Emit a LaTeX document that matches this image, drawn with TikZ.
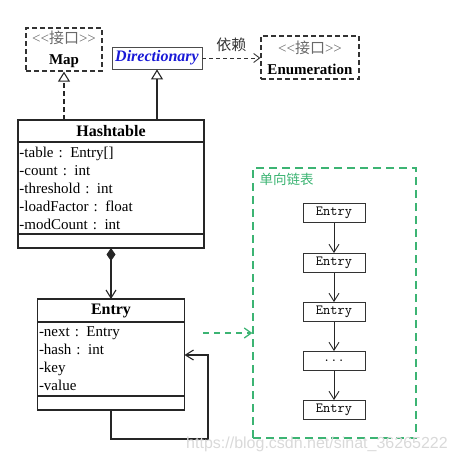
\documentclass[tikz,border=0pt]{standalone}
\usepackage{fontspec}
\setmainfont{Liberation Serif}
\newfontfamily\cjk{Noto Sans CJK SC}
\newfontfamily\markfont{Liberation Sans}
\usepackage{tikz}
\usetikzlibrary{positioning}
\usetikzlibrary{arrows.meta}
\definecolor{ifacegray}{RGB}{105,105,105}
\definecolor{dirblue}{RGB}{25,25,215}
\definecolor{listgreen}{RGB}{60,180,115}
\newcommand{\iface}{\textcolor{ifacegray}{<\kern0pt<{\cjk 接口}>\kern0pt>}}
\newcommand{\listdots}{...}
\tikzstyle{classtitle}=[draw=black!85,line width=1.2pt,outer sep=0pt,inner sep=0pt,font=\fontsize{16}{18}\selectfont\bfseries]
\tikzstyle{classpart}=[draw=black!85,line width=1.2pt,outer sep=0pt,inner xsep=1.5pt,inner ysep=0pt,align=left,font=\fontsize{15}{18}\selectfont]
\tikzstyle{ifacebox}=[draw=black!80,line width=1.3pt,dash pattern=on 5pt off 3pt,align=center,inner sep=0pt,font=\fontsize{15}{21}\selectfont]
\tikzstyle{listnode}=[draw=black!80,line width=0.9pt,minimum width=62pt,minimum height=19pt,inner sep=0pt,font=\fontsize{14}{14}\selectfont\ttfamily]
\tikzstyle{realize} = [draw=black!85,line width=1.1pt,dash pattern=on 5pt off 3pt,-{Triangle[open,width=12pt,length=10pt]}]
\tikzstyle{inherit} = [draw=black!85,line width=1.1pt,-{Triangle[open,width=12pt,length=10pt]}]
\tikzstyle{depend} = [draw=black!80,line width=0.9pt,dash pattern=on 4pt off 3pt,-{Straight Barb[width=9pt,length=6pt]}]
\tikzstyle{edge} = [draw=black!85,line width=1.1pt,-{Straight Barb[width=10pt,length=8pt]}]
\tikzstyle{greenedge} = [draw=listgreen,line width=1.3pt,dash pattern=on 6pt off 5pt,-{Straight Barb[width=10pt,length=7pt]}]

\begin{document}
\begin{tikzpicture}[x=1pt,y=-1pt]
    \useasboundingbox (0,0) rectangle (456,464);
    % The interfaces and the super class
    \node[ifacebox, minimum width=76pt, minimum height=43pt] (map) at (64,49.5) {\iface\\ \textbf{Map}};
    \node[ifacebox, minimum width=98pt, minimum height=43pt] (enum) at (310,57.5) {\iface\\ \textbf{Enumeration}};
    \node[draw=black!70, line width=0.8pt, minimum width=90pt, minimum height=22pt, inner sep=0pt,
          font=\fontsize{16}{18}\selectfont\bfseries\itshape, text=dirblue] (dir) at (157,58) {Directionary};

    % Hashtable class
    \node[classtitle, minimum width=186pt, minimum height=22pt] (htitle) at (111,131) {Hashtable};
    \node[classpart, text width=183pt, minimum height=92pt, below=0pt of htitle] (hattr)
        {-table : Entry[]\\-count : int\\-threshold : int\\-loadFactor : float\\-modCount : int};
    \node[classpart, text width=183pt, minimum height=14pt, below=0pt of hattr] (hmeth) {};

    % Entry class
    \node[classtitle, minimum width=147pt, minimum height=23pt] (etitle) at (111,310.5) {Entry};
    \node[classpart, text width=144pt, minimum height=74pt, below=0pt of etitle] (eattr)
        {-next : Entry\\-hash : int\\-key\\-value};
    \node[classpart, text width=144pt, minimum height=14pt, below=0pt of eattr] (emeth) {};

    % Relations between the classes
    \path[realize] (map.south |- htitle.north) -- (map.south);
    \path[inherit] (dir.south |- htitle.north) -- (dir.south);
    \path[depend] (dir.east) -- node[above=2pt, font=\cjk\fontsize{15}{15}\selectfont, text=black!80] {依赖} (enum.west |- dir.east);
    \path[edge, {Diamond[width=9pt,length=13pt]}-{Straight Barb[width=10pt,length=8pt]}] (etitle.north |- hmeth.south) -- (etitle.north);
    \coordinate (loop) at (208,439);
    \path[edge] (emeth.south) |- (loop) |- ([yshift=4pt]eattr.east);

    % The linked list
    \node[draw=listgreen, line width=1.3pt, dash pattern=on 8pt off 5pt, minimum width=163pt, minimum height=270pt] (list) at (334.5,303) {};
    \node[anchor=north west, inner sep=0pt, font=\cjk\fontsize{13.5}{13.5}\selectfont, text=listgreen] at ([xshift=7pt,yshift=-6pt]list.north west) {单向链表};
    \foreach \pos/\name/\txt in {{(334,213)/c1/Entry}, {(334,263)/c2/Entry}, {(334,312)/c3/Entry}, {(334,361)/c4/\listdots}, {(334,410)/c5/Entry}}
        \node[listnode] (\name) at \pos {\txt};
    \foreach \source/ \dest in {c1/c2, c2/c3, c3/c4, c4/c5}
        \path[edge, line width=0.9pt] (\source) -- (\dest);
    \coordinate (linkstart) at (203,333);
    \path[greenedge] (linkstart) -- (linkstart -| list.west);

    % watermark
    \node[font=\markfont\fontsize{16}{16}\selectfont, text=black!15] at (317,444) {https://blog.csdn.net/sinat\_36265222};
\end{tikzpicture}
\end{document}
